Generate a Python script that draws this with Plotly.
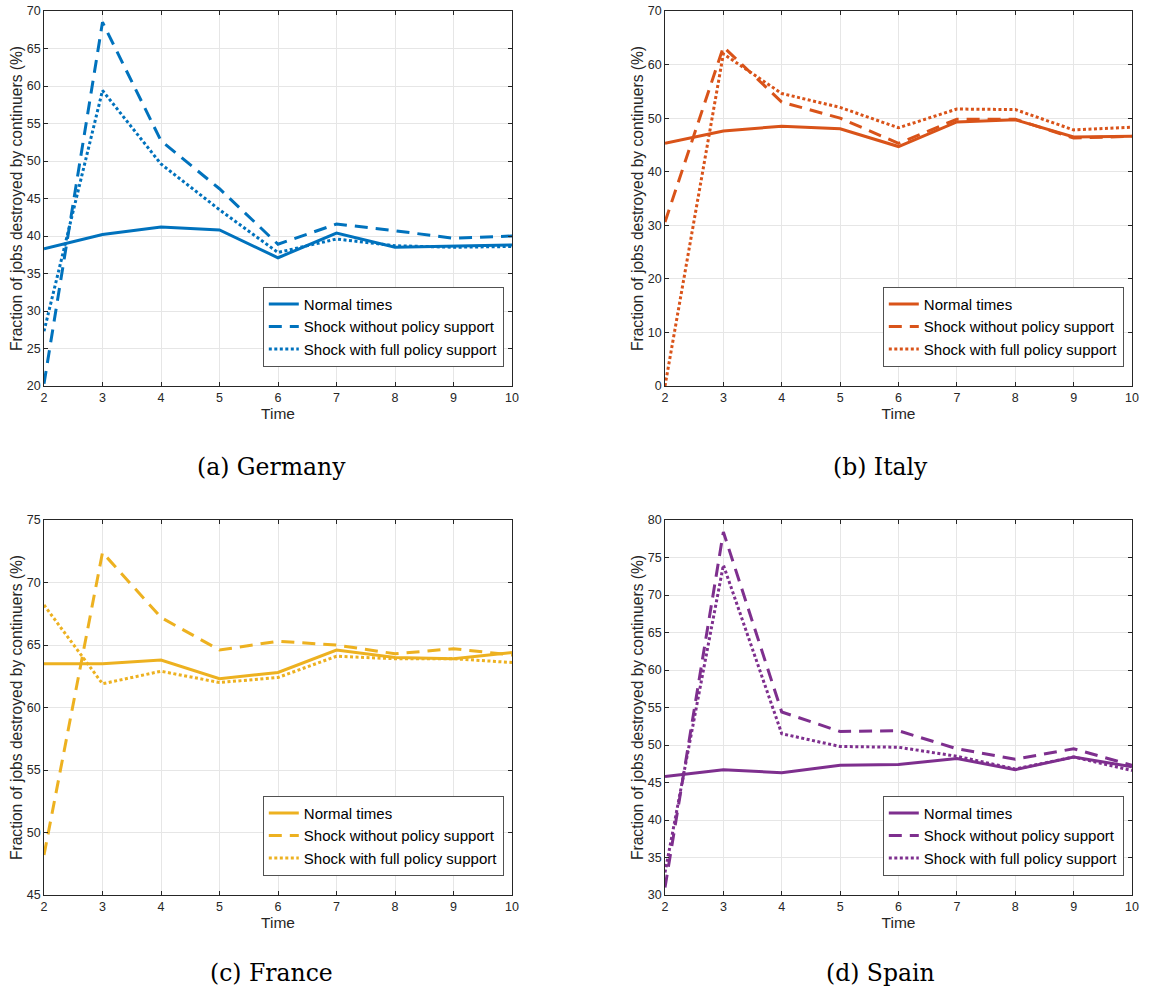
import plotly.graph_objects as go

W, H = 1151, 991

time = [2, 3, 4, 5, 6, 7, 8, 9, 10]
series_names = ["Normal times", "Shock without policy support", "Shock with full policy support"]

germany_normal = [38.3, 40.2, 41.2, 40.8, 37.1, 40.4, 38.5, 38.7, 38.8]
germany_no_support = [20.3, 68.5, 52.7, 46.3, 38.9, 41.6, 40.7, 39.7, 40.0]
germany_full_support = [27.3, 59.4, 49.6, 43.5, 37.8, 39.6, 38.7, 38.5, 38.6]

italy_normal = [45.3, 47.6, 48.5, 48.0, 44.7, 49.3, 49.7, 46.5, 46.6]
italy_no_support = [30.6, 63.3, 53.0, 50.0, 45.3, 49.8, 49.8, 46.3, 46.6]
italy_full_support = [0.0, 62.0, 54.6, 52.0, 48.2, 51.7, 51.6, 47.8, 48.3]

france_normal = [63.5, 63.5, 63.8, 62.3, 62.8, 64.6, 64.0, 63.9, 64.4]
france_no_support = [48.2, 72.4, 67.2, 64.6, 65.3, 65.0, 64.3, 64.7, 64.2]
france_full_support = [68.2, 61.9, 62.9, 62.0, 62.4, 64.1, 63.9, 63.9, 63.6]

spain_normal = [45.8, 46.7, 46.3, 47.3, 47.4, 48.2, 46.7, 48.4, 47.1]
spain_no_support = [31.0, 78.4, 54.4, 51.8, 51.9, 49.5, 48.1, 49.5, 47.3]
spain_full_support = [33.0, 74.0, 51.5, 49.8, 49.7, 48.5, 46.8, 48.4, 46.6]

panels = [
    dict(data=[germany_normal, germany_no_support, germany_full_support],
         color="#0072BD", yrange=[20, 70], dtick=5, caption="(a) Germany"),
    dict(data=[italy_normal, italy_no_support, italy_full_support],
         color="#D95319", yrange=[0, 70], dtick=10, caption="(b) Italy"),
    dict(data=[france_normal, france_no_support, france_full_support],
         color="#EDB120", yrange=[45, 75], dtick=5, caption="(c) France"),
    dict(data=[spain_normal, spain_no_support, spain_full_support],
         color="#7E2F8E", yrange=[30, 80], dtick=5, caption="(d) Spain"),
]

# page margins (px) and plot boxes in page pixels (left, right, top, bottom)
ML, MR, MT, MB = 44, 19, 11, 96
IW, IH = W - ML - MR, H - MT - MB
boxes = [(44, 512, 11, 386), (665, 1132, 11, 386), (44, 512, 520, 895), (665, 1132, 520, 895)]
legend_pos = [(504, 367), (1124, 367), (504, 876), (1124, 876)]
caption_pos = [(271, 467), (880, 467), (271, 973), (880, 973)]


def fx(px):
    return (px - ML) / IW


def fy(py):
    return (H - MB - py) / IH


dashes = ["solid", "13px,8px", "3px,2.5px"]

fig = go.Figure()
axis_color = "#262626"
grid_color = "#e6e6e6"
sans = "Liberation Sans, Arial, Helvetica"

for i, p in enumerate(panels):
    k = "" if i == 0 else str(i + 1)
    lg = "legend" + k
    for j, (vals, name) in enumerate(zip(p["data"], series_names)):
        fig.add_trace(go.Scatter(
            x=time, y=vals, mode="lines", name=name,
            line=dict(color=p["color"], width=3, dash=dashes[j]),
            xaxis="x" + k, yaxis="y" + k, legend=lg, showlegend=True,
        ))
    l, r, t, b = boxes[i]
    common = dict(
        showline=True, linecolor=axis_color, linewidth=0.8, mirror="ticks",
        ticks="inside", ticklen=4, tickcolor=axis_color, tickwidth=0.8,
        showgrid=True, gridcolor=grid_color, gridwidth=1, zeroline=False,
        automargin=False,
        tickfont=dict(family=sans, size=12.5, color=axis_color),
    )
    fig.update_layout(**{
        "xaxis" + k: dict(
            domain=[max(0, fx(l)), min(1, fx(r))], range=[2, 10], dtick=1,
            anchor="y" + k,
            title=dict(text="Time", standoff=2,
                       font=dict(family=sans, size=15.5, color=axis_color)),
            **common),
        "yaxis" + k: dict(
            domain=[max(0, fy(b)), min(1, fy(t))], range=p["yrange"], dtick=p["dtick"],
            anchor="x" + k,
            title=dict(text="Fraction of jobs destroyed by continuers (%)", standoff=0,
                       font=dict(family=sans, size=15.6, color=axis_color)),
            **common),
        lg: dict(
            x=fx(legend_pos[i][0]), y=fy(legend_pos[i][1]),
            xanchor="right", yanchor="bottom",
            bgcolor="white", bordercolor="#262626", borderwidth=0.8,
            font=dict(family=sans, size=15, color="black"),
            itemwidth=30, tracegroupgap=0,
        ),
    })
    cx, cy = caption_pos[i]
    fig.add_annotation(
        text=p["caption"], xref="paper", yref="paper",
        x=fx(cx), y=fy(cy), xanchor="center", yanchor="middle",
        showarrow=False,
        font=dict(family="DejaVu Serif", size=23.5, color="black"),
    )

fig.update_layout(
    width=W, height=H,
    margin=dict(l=ML, r=MR, t=MT, b=MB, autoexpand=False),
    paper_bgcolor="white", plot_bgcolor="white",
)

# remove the browser's default 8px body margin so the figure fills the window
fig.write_html(
    "out.html",
    config={"displayModeBar": False},
    post_script="document.body.style.margin='0';document.body.style.overflow='hidden';",
)
